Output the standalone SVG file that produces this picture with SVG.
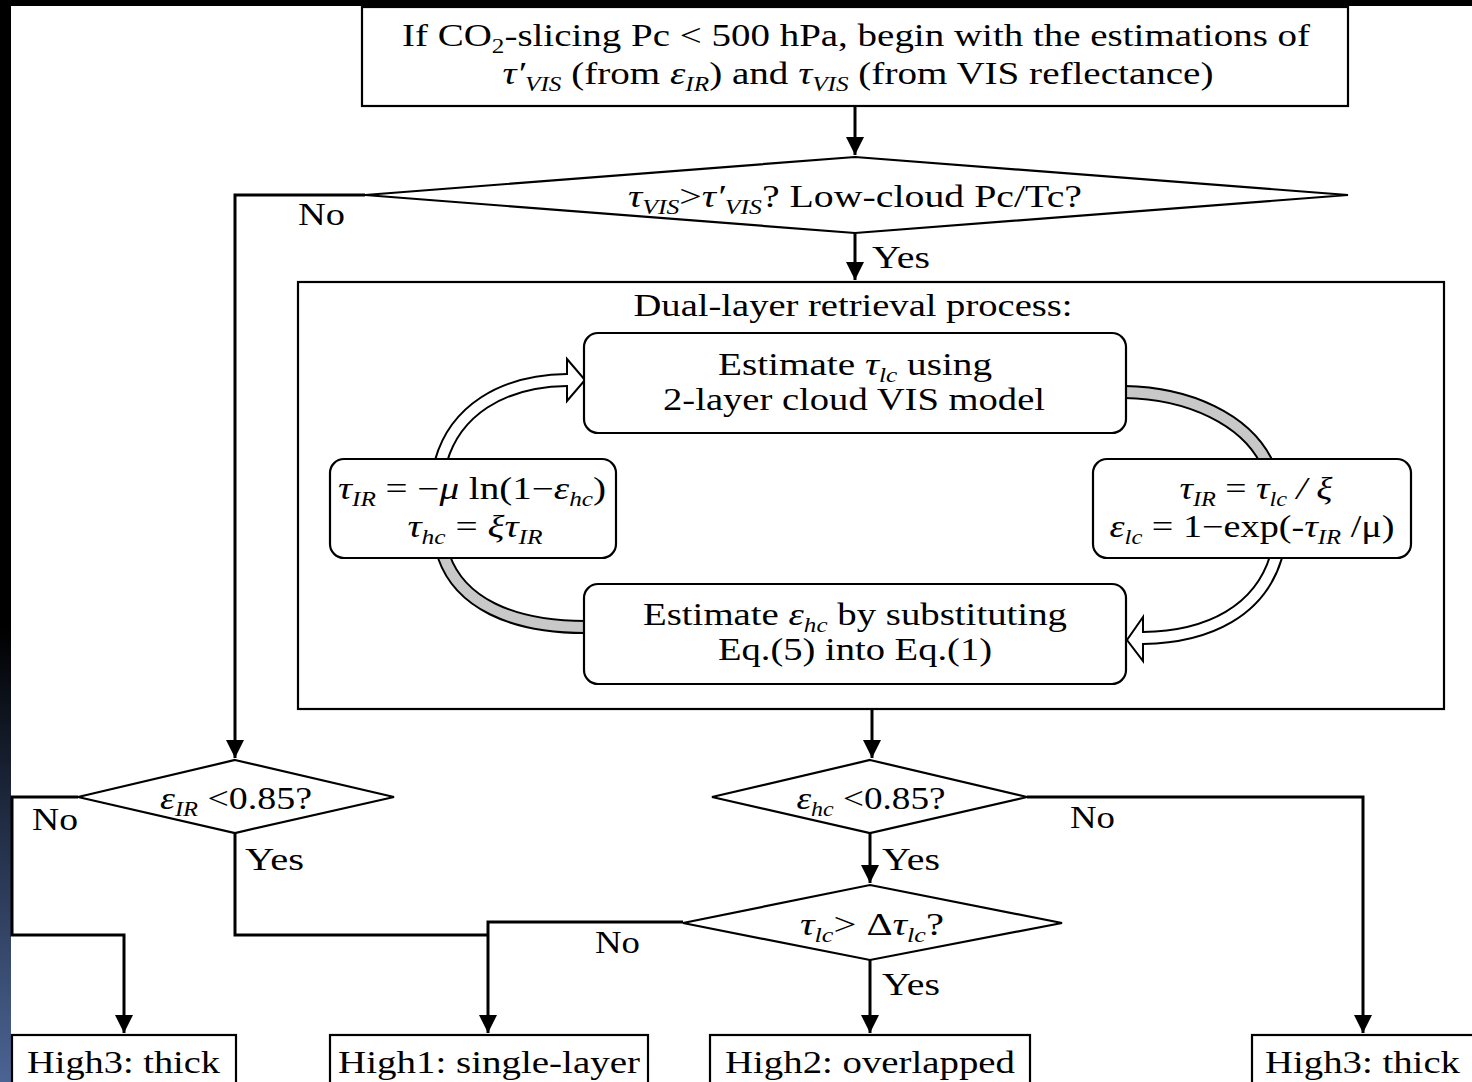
<svg xmlns="http://www.w3.org/2000/svg" width="1472" height="1082" viewBox="0 0 1472 1082">
<defs>
<linearGradient id="side" x1="0" y1="0" x2="0" y2="1">
<stop offset="0" stop-color="#000"/>
<stop offset="0.58" stop-color="#000"/>
<stop offset="0.75" stop-color="#1f2a40"/>
<stop offset="1" stop-color="#4c6494"/>
</linearGradient>
<marker id="ah" viewBox="0 0 10 10" refX="10" refY="5" markerWidth="6" markerHeight="6" markerUnits="strokeWidth" orient="auto">
<path d="M0,0 L10,5 L0,10 z" fill="#000"/>
</marker>
<style>
.t{font-family:"Liberation Serif","Times New Roman",serif;font-size:31px;fill:#000}
.i{font-style:italic}
.s{font-size:20px;font-style:italic}
.box{fill:#fff;stroke:#000;stroke-width:2.2}
.conn{fill:none;stroke:#000;stroke-width:3}
.bk{fill:none;stroke:#000;stroke-width:14}
.wh{fill:none;stroke:#fff;stroke-width:10}
.gr{fill:none;stroke:#c8c8c8;stroke-width:10}
</style>
</defs>
<rect x="0" y="0" width="1472" height="1082" fill="#fff"/>
<rect x="0" y="0" width="1472" height="6" fill="#000"/>
<rect x="0" y="0" width="11" height="1082" fill="url(#side)"/>

<g id="connectors">
<path class="conn" d="M855,106 V155" marker-end="url(#ah)"/>
<path class="conn" d="M365,195 H235 V758" marker-end="url(#ah)"/>
<path class="conn" d="M855,233 V280" marker-end="url(#ah)"/>
<path class="conn" d="M872,709 V758" marker-end="url(#ah)"/>
<path class="conn" d="M78,797 H12 V935 H124 V1033" marker-end="url(#ah)"/>
<path class="conn" d="M235,833 V935 H488"/>
<path class="conn" d="M683,922 H488 V1033" marker-end="url(#ah)"/>
<path class="conn" d="M870,833 V883" marker-end="url(#ah)"/>
<path class="conn" d="M870,960 V1033" marker-end="url(#ah)"/>
<path class="conn" d="M1027,797 H1363 V1033" marker-end="url(#ah)"/>
<path class="bk" d="M441,461 C455,412 500,381 567,380"/>
<path class="bk" d="M1125,392 C1190,393 1245,420 1266,461"/>
<path class="bk" d="M1276,557 C1260,610 1210,637 1143,638"/>
<path class="bk" d="M444,557 C460,602 510,627 585,627"/>
<polygon points="567,359 585,380 567,401" fill="#fff" stroke="#000" stroke-width="2"/>
<polygon points="1143,617 1127,640 1143,661" fill="#fff" stroke="#000" stroke-width="2"/>
<path class="wh" d="M441,461 C455,412 500,381 567,380 L572,380"/>
<path class="gr" d="M1124,392 C1190,393 1245,420 1266,461"/>
<path class="wh" d="M1276,557 C1260,610 1210,637 1143,638 L1138,638"/>
<path class="gr" d="M444,557 C460,602 510,627 586,627"/>
<text class="t" x="298" y="225" textLength="47" lengthAdjust="spacingAndGlyphs">No</text>
<text class="t" x="872" y="268" textLength="58" lengthAdjust="spacingAndGlyphs">Yes</text>
<text class="t" x="32" y="830" textLength="46" lengthAdjust="spacingAndGlyphs">No</text>
<text class="t" x="245" y="870" textLength="59" lengthAdjust="spacingAndGlyphs">Yes</text>
<text class="t" x="1070" y="828" textLength="45" lengthAdjust="spacingAndGlyphs">No</text>
<text class="t" x="882" y="870" textLength="58" lengthAdjust="spacingAndGlyphs">Yes</text>
<text class="t" x="595" y="953" textLength="45" lengthAdjust="spacingAndGlyphs">No</text>
<text class="t" x="882" y="995" textLength="58" lengthAdjust="spacingAndGlyphs">Yes</text>
</g>

<g id="start">
<rect class="box" x="362" y="7" width="986" height="99"/>
<text class="t" x="856" y="46" text-anchor="middle" textLength="908" lengthAdjust="spacingAndGlyphs">If CO<tspan font-size="20" dy="7">2</tspan><tspan dy="-7">-slicing Pc &lt; 500 hPa, begin with the estimations of</tspan></text>
<text class="t" x="858" y="84" text-anchor="middle" textLength="711" lengthAdjust="spacingAndGlyphs"><tspan class="i">τ′</tspan><tspan class="s" dy="7">VIS</tspan><tspan dy="-7">  (from </tspan><tspan class="i">ε</tspan><tspan class="s" dy="7">IR</tspan><tspan dy="-7">) and </tspan><tspan class="i">τ</tspan><tspan class="s" dy="7">VIS</tspan><tspan dy="-7"> (from VIS reflectance)</tspan></text>
</g>

<g id="d1">
<polygon class="box" points="855,157 1348,195 855,233 365,195"/>
<text class="t" x="855" y="207" text-anchor="middle" textLength="454" lengthAdjust="spacingAndGlyphs"><tspan class="i">τ</tspan><tspan class="s" dy="7">VIS</tspan><tspan dy="-7">&gt;</tspan><tspan class="i">τ′</tspan><tspan class="s" dy="7">VIS</tspan><tspan dy="-7">? Low-cloud Pc/Tc?</tspan></text>
</g>

<g id="dual">
<rect class="box" x="298" y="282" width="1146" height="427" style="fill:none"/>
<text class="t" x="853" y="316" text-anchor="middle" textLength="439" lengthAdjust="spacingAndGlyphs">Dual-layer retrieval process:</text>
</g>

<g id="estTau">
<rect class="box" x="584" y="333" width="542" height="100" rx="14"/>
<text class="t" x="855" y="375" text-anchor="middle" textLength="274" lengthAdjust="spacingAndGlyphs">Estimate <tspan class="i">τ</tspan><tspan class="s" dy="7">lc</tspan><tspan dy="-7"> using</tspan></text>
<text class="t" x="854" y="410" text-anchor="middle" textLength="382" lengthAdjust="spacingAndGlyphs">2-layer cloud VIS model</text>
</g>

<g id="left">
<rect class="box" x="330" y="459" width="286" height="99" rx="14"/>
<text class="t" x="472" y="499" text-anchor="middle" textLength="268" lengthAdjust="spacingAndGlyphs"><tspan class="i">τ</tspan><tspan class="s" dy="7">IR</tspan><tspan dy="-7"> = −</tspan><tspan class="i">μ</tspan><tspan> ln(1−</tspan><tspan class="i">ε</tspan><tspan class="s" dy="7">hc</tspan><tspan dy="-7">)</tspan></text>
<text class="t" x="475" y="537" text-anchor="middle" textLength="135" lengthAdjust="spacingAndGlyphs"><tspan class="i">τ</tspan><tspan class="s" dy="7">hc</tspan><tspan dy="-7"> = </tspan><tspan class="i">ξτ</tspan><tspan class="s" dy="7">IR</tspan></text>
</g>

<g id="right">
<rect class="box" x="1093" y="459" width="318" height="99" rx="14"/>
<text class="t" x="1256" y="499" text-anchor="middle" textLength="153" lengthAdjust="spacingAndGlyphs"><tspan class="i">τ</tspan><tspan class="s" dy="7">IR</tspan><tspan dy="-7"> = </tspan><tspan class="i">τ</tspan><tspan class="s" dy="7">lc</tspan><tspan class="i" dy="-7"> / ξ</tspan></text>
<text class="t" x="1252" y="537" text-anchor="middle" textLength="285" lengthAdjust="spacingAndGlyphs"><tspan class="i">ε</tspan><tspan class="s" dy="7">lc</tspan><tspan dy="-7"> = 1−exp(-</tspan><tspan class="i">τ</tspan><tspan class="s" dy="7">IR</tspan><tspan dy="-7"> /μ)</tspan></text>
</g>

<g id="estEps">
<rect class="box" x="584" y="584" width="542" height="100" rx="14"/>
<text class="t" x="855" y="625" text-anchor="middle" textLength="424" lengthAdjust="spacingAndGlyphs">Estimate <tspan class="i">ε</tspan><tspan class="s" dy="7">hc</tspan><tspan dy="-7"> by substituting</tspan></text>
<text class="t" x="855" y="660" text-anchor="middle" textLength="274" lengthAdjust="spacingAndGlyphs">Eq.(5) into Eq.(1)</text>
</g>

<g id="d2">
<polygon class="box" points="235,760 394,797 235,833 78,797"/>
<text class="t" x="236" y="809" text-anchor="middle" textLength="152" lengthAdjust="spacingAndGlyphs"><tspan class="i">ε</tspan><tspan class="s" dy="7">IR</tspan><tspan dy="-7"> &lt;0.85?</tspan></text>
</g>

<g id="d3">
<polygon class="box" points="870,760 1027,797 870,833 712,797"/>
<text class="t" x="871" y="809" text-anchor="middle" textLength="149" lengthAdjust="spacingAndGlyphs"><tspan class="i">ε</tspan><tspan class="s" dy="7">hc</tspan><tspan dy="-7"> &lt;0.85?</tspan></text>
</g>

<g id="d4">
<polygon class="box" points="870,885 1062,923 870,960 683,923"/>
<text class="t" x="872" y="935" text-anchor="middle" textLength="144" lengthAdjust="spacingAndGlyphs"><tspan class="i">τ</tspan><tspan class="s" dy="7">lc</tspan><tspan dy="-7">&gt; Δ</tspan><tspan class="i">τ</tspan><tspan class="s" dy="7">lc</tspan><tspan dy="-7">?</tspan></text>
</g>

<g id="high3a">
<rect class="box" x="12" y="1035" width="224" height="60"/>
<text class="t" x="27" y="1073" textLength="193" lengthAdjust="spacingAndGlyphs">High3: thick</text>
</g>
<g id="high1">
<rect class="box" x="330" y="1035" width="318" height="60"/>
<text class="t" x="338" y="1073" textLength="302" lengthAdjust="spacingAndGlyphs">High1: single-layer</text>
</g>
<g id="high2">
<rect class="box" x="710" y="1035" width="320" height="60"/>
<text class="t" x="725" y="1073" textLength="290" lengthAdjust="spacingAndGlyphs">High2: overlapped</text>
</g>
<g id="high3b">
<rect class="box" x="1252" y="1035" width="240" height="60"/>
<text class="t" x="1265" y="1073" textLength="195" lengthAdjust="spacingAndGlyphs">High3: thick</text>
</g>
</svg>
